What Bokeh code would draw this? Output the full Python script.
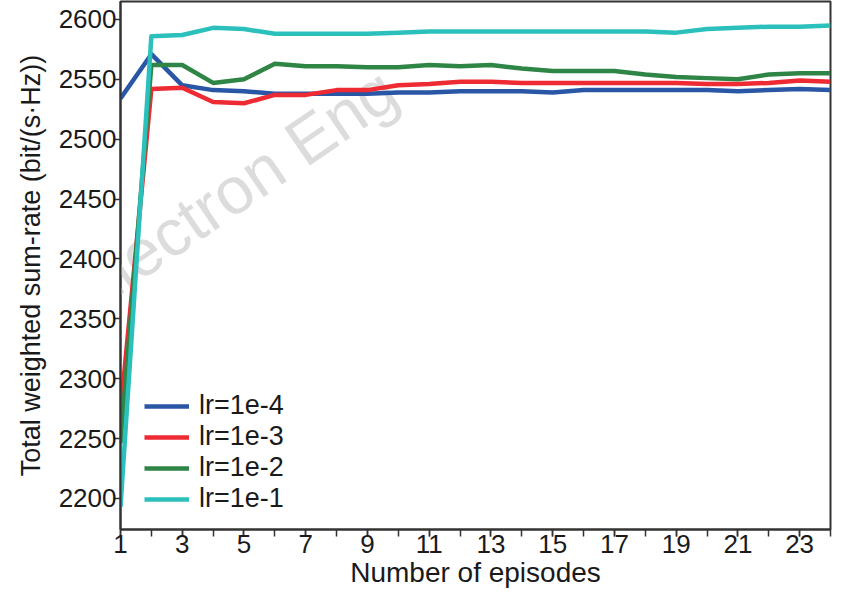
from bokeh.plotting import figure
from bokeh.models import Range1d, FixedTicker, Legend, LegendItem, Label
from bokeh.embed import file_html
from bokeh.resources import INLINE

# ---- data ----
episodes = list(range(1, 25))
lr_1e4 = [2534, 2571, 2545, 2541, 2540, 2538, 2538, 2538, 2538, 2539, 2539, 2540,
          2540, 2540, 2539, 2541, 2541, 2541, 2541, 2541, 2540, 2541, 2542, 2541]
lr_1e3 = [2272, 2542, 2543, 2531, 2530, 2537, 2537, 2541, 2541, 2545, 2546, 2548,
          2548, 2547, 2547, 2547, 2547, 2547, 2547, 2546, 2546, 2547, 2549, 2548]
lr_1e2 = [2246, 2562, 2562, 2547, 2550, 2563, 2561, 2561, 2560, 2560, 2562, 2561,
          2562, 2559, 2557, 2557, 2557, 2554, 2552, 2551, 2550, 2554, 2555, 2555]
lr_1e1 = [2193, 2586, 2587, 2593, 2592, 2588, 2588, 2588, 2588, 2589, 2590, 2590,
          2590, 2590, 2590, 2590, 2590, 2590, 2589, 2592, 2593, 2594, 2594, 2595]
series_labels = ["lr=1e-4", "lr=1e-3", "lr=1e-2", "lr=1e-1"]
series_colors = ["#2a56a6", "#ee2a33", "#2f8545", "#2cc0bd"]
x_tick_labels = list(range(1, 24, 2))
y_ticks = list(range(2200, 2601, 50))

FONT = "Liberation Sans"
TXT = "#1a1a1a"

p = figure(width=832, height=590, output_backend="svg", toolbar_location=None,
           x_range=Range1d(1, 24), y_range=Range1d(2174, 2615),
           min_border_left=120, min_border_right=2, min_border_top=1,
           min_border_bottom=40)

p.xgrid.visible = False
p.ygrid.visible = False
p.outline_line_color = "#333333"
p.outline_line_width = 2

# watermark (screen units, relative to the plot frame)
wm = Label(x=-43, y=233, x_units="screen", y_units="screen",
           text="Electron Eng", angle=0.60, angle_units="rad",
           text_font=FONT, text_font_size="66px", text_color="#dcdcdc",
           text_align="left", text_baseline="alphabetic", level="underlay")
p.add_layout(wm)

items = []
for ys, lab, col in zip([lr_1e4, lr_1e3, lr_1e2, lr_1e1], series_labels, series_colors):
    r = p.line(episodes, ys, line_color=col, line_width=4.5, line_join="round")
    items.append(LegendItem(label=lab, renderers=[r]))

legend = Legend(items=items, location=(24, 15), orientation="vertical",
                glyph_width=45, glyph_height=28, label_height=28, spacing=0,
                padding=0, margin=0, label_standoff=10,
                label_text_font=FONT, label_text_font_size="27px",
                label_text_color=TXT, background_fill_alpha=0,
                border_line_color=None)
p.add_layout(legend, "center")

# x axis
xa = p.xaxis[0]
xa.ticker = FixedTicker(ticks=x_tick_labels, minor_ticks=episodes)
xa.axis_label = "Number of episodes"
xa.axis_label_text_font = FONT
xa.axis_label_text_font_size = "28px"
xa.axis_label_text_font_style = "normal"
xa.axis_label_text_color = TXT
xa.axis_label_standoff = 1
xa.major_label_text_font = FONT
xa.major_label_text_font_size = "26px"
xa.major_label_text_color = TXT
xa.major_label_standoff = -2
xa.major_tick_in = 0
xa.major_tick_out = 7
xa.minor_tick_in = 0
xa.minor_tick_out = 7
xa.axis_line_width = 2
xa.axis_line_color = "#333333"
xa.major_tick_line_color = "#333333"
xa.minor_tick_line_color = "#333333"
xa.major_tick_line_width = 1.5
xa.minor_tick_line_width = 1.5

# y axis
ya = p.yaxis[0]
ya.ticker = FixedTicker(ticks=y_ticks, minor_ticks=[])
ya.axis_label = "Total weighted sum-rate (bit/(s\u00b7Hz))"
ya.axis_label_text_font = FONT
ya.axis_label_text_font_size = "27px"
ya.axis_label_text_font_style = "normal"
ya.axis_label_text_color = TXT
ya.axis_label_standoff = 10
ya.major_label_text_font = FONT
ya.major_label_text_font_size = "26px"
ya.major_label_text_color = TXT
ya.major_label_standoff = -3
ya.major_tick_in = 0
ya.major_tick_out = 7
ya.minor_tick_line_color = None
ya.axis_line_width = 2
ya.axis_line_color = "#333333"
ya.major_tick_line_color = "#333333"
ya.major_tick_line_width = 1.5

open("out.html", "w").write(file_html(p, INLINE))
